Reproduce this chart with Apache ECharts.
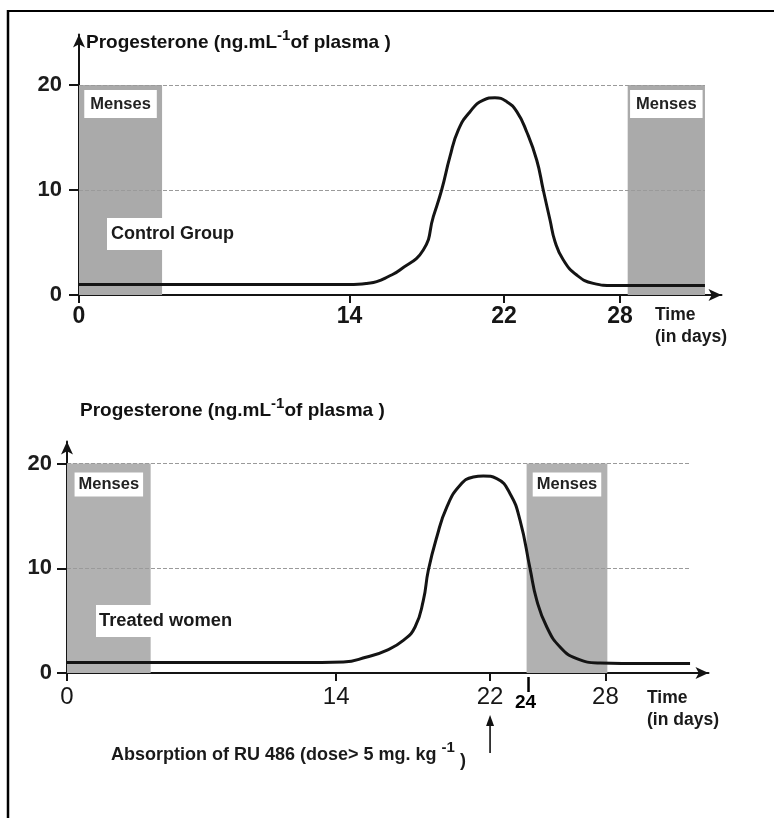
<!DOCTYPE html>
<html>
<head>
<meta charset="utf-8">
<script src="https://cdn.jsdelivr.net/npm/echarts@6/dist/echarts.min.js"></script>
<style>
  html, body { margin: 0; padding: 0; background: #ffffff; }
  #chart { width: 774px; height: 818px; }
</style>
</head>
<body>
<div id="chart"></div>
<script>
// ---------------- data ----------------
const xTickDays = [0, 14, 22, 28];
const yTickLevels = [0, 10, 20];
const gridLevels = [10, 20];
const bandTop = 20;

// Control group: day of cycle -> progesterone (ng/mL)
const controlDays  = [0, 5, 10, 14.0, 14.44, 14.89, 15.41, 15.99, 16.61, 17.82, 18.34, 18.77, 19.2, 19.63, 20.24, 20.93, 21.53, 22.14, 22.66, 23.17, 23.69, 24.03, 24.38, 24.64, 25.07, 25.76, 26.62, 27.66, 30, 32.4];
const controlLevel = [1.0, 1.0, 1.0, 1.0, 1.02, 1.1, 1.27, 1.74, 2.38, 4.29, 7.46, 10.0, 13.17, 15.71, 17.46, 18.57, 18.79, 18.41, 17.46, 15.55, 12.86, 10.0, 7.14, 5.08, 3.33, 1.9, 1.11, 0.9, 0.9, 0.9];
const controlMenses = [[0, 4.3], [28.4, 32.4]];
const controlEnd = 32.4;

// Treated women
const treatedDays  = [0, 5, 10, 12.12, 14.37, 15.59, 16.62, 17.49, 18.10, 18.53, 18.79, 19.23, 19.75, 20.44, 21.13, 21.65, 22.35, 23.04, 23.56, 24.08, 24.43, 24.95, 25.64, 26.51, 27.72, 30, 32.4];
const treatedLevel = [1.0, 1.0, 1.0, 1.0, 1.05, 1.53, 2.17, 3.12, 4.39, 6.94, 9.81, 12.99, 15.85, 17.93, 18.72, 18.82, 18.57, 17.13, 14.58, 9.97, 6.94, 4.39, 2.48, 1.37, 0.96, 0.9, 0.9];
const treatedMenses = [[0, 4.35], [23.9, 28.1]];
const treatedEnd = 32.4;

const doseDay = 22;
const treatedMensesOnset = 24;

const mensesText = 'Menses';
// ---------------------------------------

const FONT = "'Liberation Sans', Arial, Helvetica, sans-serif";
const NARROW = "'Liberation Sans Narrow', 'Arial Narrow', 'Liberation Sans', Arial, sans-serif";
const INK = '#141414';

function pairs(xs, ys) { return xs.map((d, i) => [d, ys[i]]); }

function xAxisDef(gridIndex, max, margin, labelFont) {
  return {
    type: 'value', gridIndex, min: 0, max,
    axisLine: { show: true, onZero: false, symbol: ['none', 'arrow'], symbolSize: [9, 13],
      lineStyle: { color: INK, width: 2 } },
    axisTick: { show: true, customValues: xTickDays, length: 8, lineStyle: { color: INK, width: 2 } },
    axisLabel: Object.assign({ customValues: xTickDays, margin, color: '#161616' }, labelFont),
    splitLine: { show: false }
  };
}
function yAxisDef(gridIndex, max, margin) {
  return {
    type: 'value', gridIndex, min: 0, max,
    axisLine: { show: true, onZero: false, symbol: ['none', 'arrow'], symbolSize: [9, 13],
      lineStyle: { color: INK, width: 2 } },
    axisTick: { show: true, customValues: yTickLevels, length: 10, lineStyle: { color: INK, width: 2 } },
    axisLabel: { customValues: yTickLevels, margin, fontSize: 22, fontWeight: 'bold',
      color: '#1c1c1c', fontFamily: FONT },
    splitLine: { show: false }
  };
}
function curveSeries(idx, days, level, menses, endDay, labelDist, labelPad, bandColor) {
  return {
    type: 'line', xAxisIndex: idx, yAxisIndex: idx,
    data: pairs(days, level),
    showSymbol: false, smooth: 0.5,
    lineStyle: { color: INK, width: 3 }, z: 5, silent: true,
    markArea: {
      silent: true, itemStyle: { color: bandColor },
      label: { show: true, position: 'insideTop', distance: labelDist, formatter: mensesText,
        backgroundColor: '#ffffff', padding: labelPad, fontSize: 16.5, fontWeight: 'bold',
        color: '#222', lineHeight: 18, fontFamily: FONT },
      data: menses.map(([a, b]) => [{ xAxis: a, yAxis: 0 }, { xAxis: b, yAxis: bandTop }])
    },
    markLine: {
      silent: true, symbol: 'none', animation: false,
      lineStyle: { color: '#9a9a9a', type: [4, 2], width: 1.2 },
      label: { show: false },
      data: gridLevels.map(v => [{ coord: [0, v] }, { coord: [endDay, v] }])
    }
  };
}

function titleText(left, top) {
  return {
    type: 'text', left, top,
    style: {
      text: '{a|Progesterone (ng.mL}{s|-1}{a|of plasma )}',
      rich: {
        a: { fontSize: 19, fontWeight: 'bold', fontFamily: FONT, fill: '#111', lineHeight: 30 },
        s: { fontSize: 15, fontWeight: 'bold', fontFamily: FONT, fill: '#111', lineHeight: 14, verticalAlign: 'top' }
      }
    }
  };
}

const chart = echarts.init(document.getElementById('chart'), null, { renderer: 'canvas' });

const option = {
  animation: false,
  backgroundColor: '#ffffff',
  textStyle: { fontFamily: FONT },
  grid: [
    { left: 79, top: 34.5, width: 642.5, height: 260.5 },
    { left: 67, top: 441.5, width: 641.5, height: 231.5 }
  ],
  xAxis: [
    xAxisDef(0, 642.5 / 19.32, 10, { fontSize: 23, fontWeight: 'bold', fontFamily: FONT }),
    xAxisDef(1, 641.5 / 19.23, 12, { fontSize: 24, fontWeight: 'normal', fontFamily: NARROW })
  ],
  yAxis: [ yAxisDef(0, 260.5 / 10.5, 17), yAxisDef(1, 231.5 / 10.47, 15) ],
  series: [
    curveSeries(0, controlDays, controlLevel, controlMenses, controlEnd, 5, [5, 6], '#aaaaaa'),
    curveSeries(1, treatedDays, treatedLevel, treatedMenses, treatedEnd, 9, [3, 4], '#b1b1b1')
  ]
};
chart.setOption(option);

// annotations positioned through the chart's own scales
const x22 = chart.convertToPixel({ xAxisIndex: 1 }, doseDay);
const x24 = chart.convertToPixel({ xAxisIndex: 1 }, treatedMensesOnset);
const axisY = chart.convertToPixel({ yAxisIndex: 1 }, 0);

const graphics = [
  // frame
  { type: 'line', shape: { x1: 8, y1: 11, x2: 774, y2: 11 }, style: { stroke: '#000', lineWidth: 2 } },
  { type: 'line', shape: { x1: 8, y1: 10, x2: 8, y2: 818 }, style: { stroke: '#000', lineWidth: 2.5 } },
  // titles
  titleText(86, 28),
  titleText(80, 396),
  // group labels
  { type: 'text', left: 107, top: 218, z: 10,
    style: { text: 'Control Group', fontSize: 18, fontWeight: 'bold', fontFamily: FONT, fill: '#1a1a1a',
      backgroundColor: '#ffffff', padding: [7, 4, 7, 4], lineHeight: 18 } },
  { type: 'text', left: 96, top: 605, z: 10,
    style: { text: 'Treated women', fontSize: 18.3, fontWeight: 'bold', fontFamily: FONT, fill: '#1a1a1a',
      backgroundColor: '#ffffff', padding: [7, 3, 7, 3], lineHeight: 18 } },
  // axis names
  { type: 'text', left: 655, top: 304,
    style: { text: 'Time\n(in days)', fontSize: 17.5, fontWeight: 'bold', fontFamily: FONT, fill: '#1a1a1a', lineHeight: 22 } },
  { type: 'text', left: 647, top: 687,
    style: { text: 'Time\n(in days)', fontSize: 17.5, fontWeight: 'bold', fontFamily: FONT, fill: '#1a1a1a', lineHeight: 22 } },
  // dose annotation
  { type: 'text', left: 111, top: 740,
    style: {
      text: '{a|Absorption of RU 486 (dose> 5 mg. kg }{s|-1}{a| }{p|)}',
      rich: {
        a: { fontSize: 18, fontWeight: 'bold', fontFamily: FONT, fill: '#1a1a1a', lineHeight: 30 },
        s: { fontSize: 15, fontWeight: 'bold', fontFamily: FONT, fill: '#1a1a1a', lineHeight: 6, verticalAlign: 'top' },
        p: { fontSize: 18, fontWeight: 'bold', fontFamily: FONT, fill: '#1a1a1a', lineHeight: 20, verticalAlign: 'bottom' }
      }
    } },
  // arrow pointing at the dose day
  { type: 'line', shape: { x1: x22, y1: axisY + 80, x2: x22, y2: axisY + 50 }, style: { stroke: '#111', lineWidth: 1.6 } },
  { type: 'polygon', shape: { points: [[x22, axisY + 42], [x22 - 4, axisY + 53], [x22 + 4, axisY + 53]] }, style: { fill: '#111' } },
  // day-24 marker
  { type: 'line', shape: { x1: x24, y1: axisY + 4, x2: x24, y2: axisY + 19 }, style: { stroke: '#000', lineWidth: 2.5 } },
  { type: 'text', x: x24 - 3, y: axisY + 30,
    style: { text: '24', fontSize: 19, fontWeight: 'bold', fontFamily: FONT, fill: '#000', align: 'center', verticalAlign: 'middle' } }
];
chart.setOption({ graphic: graphics });
</script>
</body>
</html>
